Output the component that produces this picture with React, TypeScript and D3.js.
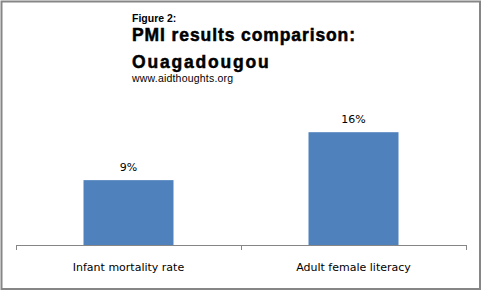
import React from "react";
import * as d3 from "d3";

const categories = ["Infant mortality rate", "Adult female literacy"];
const values = [0.092, 0.16];
const valueLabels = ["9%", "16%"];

const W = 483;
const H = 291;

export default function App() {
  const x = d3.scaleBand<string>().domain(categories).range([16, 466]).paddingInner(0.6).paddingOuter(0.3);
  const y = d3.scaleLinear().domain([0, 0.2]).range([245, 104]);
  const step = x.step();
  const boundaries = [0, 1, 2].map((i) => 16 + i * step);
  return (
    <svg width={W} height={H} style={{ position: "absolute", left: 0, top: 0, display: "block" }}>
      <rect x={0} y={0} width={W} height={H} fill="#fff" />
      <path d="M1.5,1.5 H480 V289 H1.5 Z" fill="none" stroke="#868686" strokeWidth={2} />
      <text x={132} y={21.5} fontFamily="Liberation Sans, Arial" fontWeight="bold" fontSize={10.5} fill="#000">Figure 2:</text>
      <text x={132} y={41} fontFamily="Liberation Sans, Arial" fontWeight="bold" fontSize={17.5} fill="#000" stroke="#000" strokeWidth={0.5} letterSpacing={0.9}>PMI results comparison:</text>
      <text x={132} y={67.5} fontFamily="Liberation Sans, Arial" fontWeight="bold" fontSize={17.5} fill="#000" stroke="#000" strokeWidth={0.5} letterSpacing={1.8}>Ouagadougou</text>
      <text x={132} y={82} fontFamily="Liberation Sans, Arial" fontSize={10.5} fill="#000" letterSpacing={0.2}>www.aidthoughts.org</text>
      {categories.map((c, i) => (
        <rect key={c} x={x(c)} y={y(values[i])} width={x.bandwidth()} height={245 - y(values[i])} fill="#4F81BD" />
      ))}
      {categories.map((c, i) => (
        <text key={"v" + c} x={(x(c) as number) + x.bandwidth() / 2} y={y(values[i]) - 9} textAnchor="middle" fontFamily="DejaVu Sans, Verdana" fontSize={11} fill="#000">{valueLabels[i]}</text>
      ))}
      <line x1={16} x2={466} y1={245.5} y2={245.5} stroke="#868686" strokeWidth={1} />
      {boundaries.map((bx) => (
        <line key={bx} x1={bx + 0.5} x2={bx + 0.5} y1={245} y2={250} stroke="#868686" strokeWidth={1} />
      ))}
      {categories.map((c) => (
        <text key={"c" + c} x={(x(c) as number) + x.bandwidth() / 2} y={271} textAnchor="middle" fontFamily="DejaVu Sans, Verdana" fontSize={11} fill="#000">{c}</text>
      ))}
    </svg>
  );
}
